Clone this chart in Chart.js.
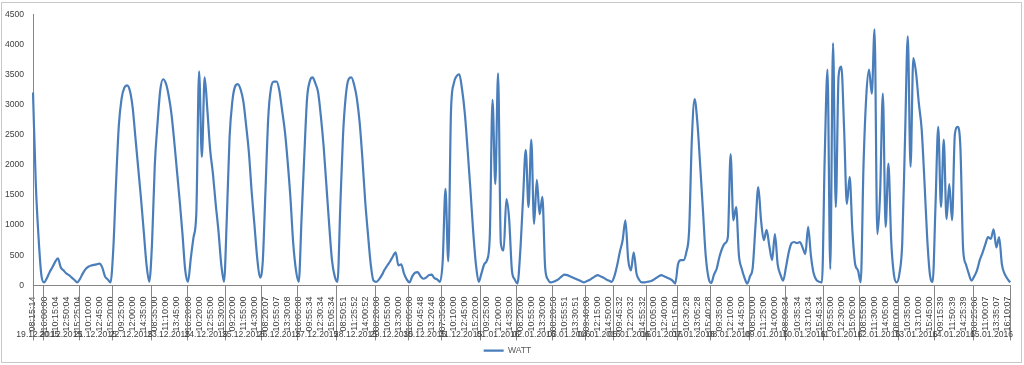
<!DOCTYPE html>
<html>
<head>
<meta charset="utf-8">
<script src="https://cdn.jsdelivr.net/npm/chart.js@4/dist/chart.umd.min.js"></script>
<style>
  html, body { margin: 0; padding: 0; background: #fff; }
  .chart-box { position: relative; width: 1024px; height: 365px; }
</style>
</head>
<body>
<div class="chart-box"><canvas id="lineChart"></canvas></div>
<script>
// time labels shown under the axis (one every 4 samples)
var timeLabels = [
    "08:15:14", "16:00:00", "10:15:04", "12:50:04", "15:25:04", "10:10:00", "12:45:00", "15:20:00",
    "09:25:00", "12:00:00", "14:35:00", "08:35:00", "11:10:00", "13:45:00", "16:20:00", "10:20:00",
    "12:55:00", "15:30:00", "09:20:00", "11:55:00", "14:30:00", "08:20:07", "10:55:07", "13:30:08",
    "16:05:08", "09:55:34", "12:30:34", "15:05:34", "08:50:51", "11:25:52", "14:00:52", "08:20:00",
    "10:55:00", "13:30:00", "16:05:00", "10:45:48", "13:20:48", "07:35:00", "10:10:00", "12:45:00",
    "15:20:00", "09:25:00", "12:00:00", "14:35:00", "08:20:00", "10:55:00", "13:30:00", "08:20:50",
    "10:55:51", "13:30:51", "09:40:00", "12:15:00", "14:50:00", "09:45:32", "12:20:32", "14:55:32",
    "10:05:00", "12:40:00", "15:15:00", "10:30:28", "13:05:28", "15:40:28", "09:35:00", "12:10:00",
    "14:45:00", "08:50:00", "11:25:00", "14:00:00", "08:00:34", "10:35:34", "13:10:34", "15:45:34",
    "09:55:00", "12:30:00", "15:05:00", "08:55:00", "11:30:00", "14:05:00", "08:00:00", "10:35:00",
    "13:10:00", "15:45:00", "09:15:39", "11:50:39", "14:25:39", "08:25:06", "11:00:07", "13:35:07",
    "16:10:07"
];

// day groups
var dates = [
    "19.12.2015", "20.12.2015", "21.12.2015", "22.12.2015", "23.12.2015", "24.12.2015", "25.12.2015",
    "26.12.2015", "27.12.2015", "28.12.2015", "29.12.2015", "30.12.2015", "31.12.2015", "01.01.2016",
    "02.01.2016", "03.01.2016", "04.01.2016", "05.01.2016", "06.01.2016", "07.01.2016", "08.01.2016",
    "09.01.2016", "10.01.2016", "11.01.2016", "12.01.2016", "13.01.2016", "14.01.2016", "15.01.2016"
];
// first sample of each day
var dayStart = [0, 4, 17, 29, 43, 56, 70, 83, 96, 110, 124, 136, 148, 162, 175, 188, 200, 210,
    222, 233, 245, 259, 272, 286, 299, 313, 326, 340];

var watt = [
    3200, 1700, 800, 180, 50, 120, 220, 300, 390, 450, 300, 250, 200, 170, 130, 90, 50, 110, 200, 270,
    310, 330, 340, 350, 360, 300, 150, 100, 50, 600, 1700, 2650, 3100, 3280, 3320, 3230, 2950, 2450, 1950, 1450,
    900, 350, 60, 700, 2000, 2700, 3250, 3420, 3350, 3150, 2850, 2400, 1900, 1400, 850, 250, 60, 450, 800, 1200,
    3550, 2130, 3450, 2900, 2250, 1850, 1350, 900, 350, 60, 1100, 2450, 3050, 3300, 3340, 3250, 3050, 2650, 2200, 1550,
    1000, 450, 130, 400, 1600, 2800, 3280, 3380, 3380, 3230, 2900, 2550, 2050, 1450, 700, 250, 60, 1100, 2150, 3100,
    3390, 3450, 3350, 3200, 2800, 2300, 1650, 1000, 420, 150, 60, 1300, 2500, 3150, 3420, 3450, 3330, 3100, 2700, 2100,
    1400, 850, 350, 80, 60, 100, 170, 260, 330, 400, 480, 550, 330, 350, 200, 100, 50, 150, 210, 220,
    150, 110, 130, 170, 180, 120, 100, 60, 400, 1600, 400, 2900, 3350, 3470, 3500, 3250, 2850, 2250, 1600, 900,
    350, 60, 200, 350, 420, 800, 3080, 1680, 3520, 700, 580, 1430, 1100, 250, 100, 30, 550, 1420, 2250, 1300,
    2420, 1020, 1750, 1180, 1470, 300, 100, 50, 60, 80, 110, 150, 180, 170, 150, 130, 110, 90, 70, 50,
    70, 90, 120, 150, 170, 150, 130, 100, 80, 60, 150, 330, 560, 750, 1080, 430, 250, 550, 200, 90,
    50, 50, 60, 70, 90, 120, 150, 170, 150, 130, 110, 80, 30, 350, 420, 420, 550, 900, 2420, 3090,
    2700, 2000, 1250, 500, 130, 40, 180, 280, 480, 620, 700, 800, 2180, 1080, 1300, 500, 280, 130, 30, 150,
    300, 1000, 1630, 1080, 750, 920, 650, 420, 850, 350, 180, 80, 300, 550, 700, 720, 700, 720, 630, 520,
    970, 500, 200, 90, 60, 50, 2130, 3580, 270, 4020, 1300, 3470, 3630, 2600, 1350, 1800, 900, 350, 250, 50,
    1970, 3130, 3580, 3180, 4250, 850, 1520, 3180, 970, 2020, 750, 180, 50, 200, 700, 2420, 4130, 1970, 3770, 3520,
    3020, 2600, 1750, 800, 180, 60, 1300, 2630, 1300, 2420, 1100, 1680, 1080, 2500, 2630, 2300, 600, 350, 200, 80,
    150, 250, 420, 540, 680, 800, 770, 930, 630, 800, 350, 190, 110, 50
];

var yTicks = [0, 500, 1000, 1500, 2000, 2500, 3000, 3500, 4000, 4500];

var LABEL_STEP = 4;
var categories = watt.map(function (v, i) {
    return i % LABEL_STEP === 0 ? (timeLabels[i / LABEL_STEP] || '') : '';
});

var axisGrey = '#868686';
var textGrey = '#404040';
var fontFamily = '"Liberation Sans", Arial, sans-serif';

// frame, day separators and date row
var excelBits = {
    id: 'excelBits',
    beforeDraw: function (chart) {
        var c = chart.ctx;
        c.save();
        c.fillStyle = '#fff';
        c.fillRect(0, 0, chart.width, chart.height);
        c.strokeStyle = '#c8c8c8';
        c.lineWidth = 1;
        c.strokeRect(1.5, 2.5, 1020, 360);
        c.restore();
    },
    afterDraw: function (chart) {
        var c = chart.ctx;
        var x = chart.scales.x;
        var area = chart.chartArea;
        var bottom = area.bottom;
        var edges = dayStart.map(function (s) {
            return s === 0 ? area.left : x.getPixelForValue(s - 0.5);
        });
        edges.push(area.right);

        c.save();
        c.strokeStyle = axisGrey;
        c.lineWidth = 1;
        c.beginPath();
        edges.forEach(function (px) {
            var p = Math.round(px) + 0.5;
            c.moveTo(p, bottom);
            c.lineTo(p, bottom + 55);
        });
        c.stroke();

        c.fillStyle = textGrey;
        c.font = '8.6px ' + fontFamily;
        c.textAlign = 'center';
        c.textBaseline = 'middle';
        for (var i = 0; i < dates.length; i++) {
            c.fillText(dates[i], (edges[i] + edges[i + 1]) / 2, bottom + 49);
        }
        c.restore();
    }
};

// LINE CHART
var ctx = document.getElementById('lineChart').getContext('2d');
var lineChart = new Chart(ctx, {
    type: 'line',
    data: {
        labels: categories,
        datasets: [{
            label: 'WATT',
            data: watt,
            borderColor: '#4a7ebb',
            backgroundColor: '#4a7ebb',
            borderWidth: 2.2,
            pointRadius: 0,
            cubicInterpolationMode: 'monotone',
            fill: false
        }]
    },
    options: {
        responsive: true,
        maintainAspectRatio: false,
        animation: false,
        layout: { padding: { top: 13, right: 9, left: 0, bottom: 0 } },
        plugins: {
            legend: {
                display: true,
                position: 'bottom',
                labels: {
                    usePointStyle: true,
                    pointStyle: 'line',
                    pointStyleWidth: 20,
                    padding: 6,
                    color: '#595959',
                    font: { family: fontFamily, size: 8.6 }
                }
            },
            tooltip: { enabled: false }
        },
        scales: {
            x: {
                type: 'category',
                offset: false,
                grid: { display: false },
                border: { display: true, color: axisGrey },
                ticks: {
                    autoSkip: false,
                    minRotation: 90,
                    maxRotation: 90,
                    padding: 3,
                    color: textGrey,
                    font: { family: fontFamily, size: 9 }
                },
                afterFit: function (scale) { scale.height = 55; }
            },
            y: {
                min: 0,
                max: 4500,
                afterBuildTicks: function (scale) {
                    scale.ticks = yTicks.map(function (v) { return { value: v }; });
                },
                grid: { display: false, drawTicks: false },
                border: { display: true, color: axisGrey },
                ticks: {
                    padding: 9,
                    color: textGrey,
                    font: { family: fontFamily, size: 8.6 },
                    callback: function (v) { return String(v); }
                },
                afterFit: function (scale) { scale.width = 33; }
            }
        }
    },
    plugins: [excelBits]
});
</script>
</body>
</html>
